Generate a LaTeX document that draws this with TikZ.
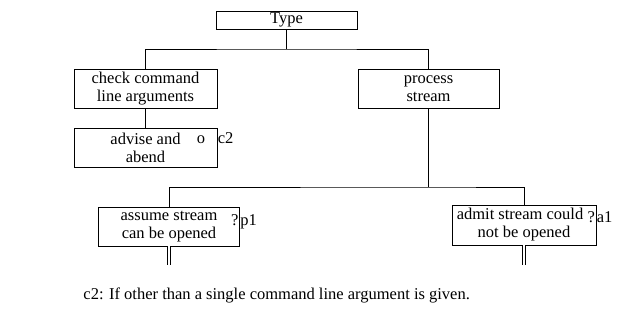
\documentclass[tikz,border=0pt]{standalone}
\usepackage{fontspec}
\setmainfont{Liberation Serif}

\begin{document}
\begin{tikzpicture}[x=1pt, y=-1pt, line width=0.9pt]
        \tikzstyle{every node}=[font=\fontsize{16.5}{18}\selectfont, inner sep=0pt]
        \tikzstyle{box}=[draw, rectangle, align=center, minimum height=39pt]
        \tikzstyle{tag}=[anchor=base west]
        \tikzstyle{stub}=[double, double distance=2.2pt, line width=0.8pt]
        \useasboundingbox (0,0) rectangle (619,312);
        % boxes
        \node [box, minimum width=141pt, minimum height=18pt] (type) at (286.5,20) {Type};
        \node [box, minimum width=143pt] (check) at (145.5,88.5) {check command\\line arguments};
        \node [box, minimum width=143pt] (advise) at (145.5,147.5) {advise and\\abend};
        \node [box, minimum width=141pt] (process) at (428.5,88.5) {process\\stream};
        \node [box, minimum width=141pt] (assume) at (169,226.5) {assume stream\\can be opened};
        \node [box, minimum width=144pt, minimum height=40pt] (admit) at (524,225) {admit stream could\hspace*{8pt}\\not be opened};
        % tags at the right edge
        \node [tag] (c2) at (advise.east |- 0,144) {c2};
        \node [anchor=base east] (adv-o) at ([xshift=-12pt]advise.east |- 0,144) {o};
        \node [tag] (p1) at (assume.east |- 0,225.5) {p1};
        \node [anchor=base east] (p1-q) at ([xshift=-1pt]assume.east |- 0,225.5) {?};
        \node [tag] (a1) at (admit.east |- 0,223) {a1};
        \node [anchor=base east] (a1-q) at ([xshift=-1pt]admit.east |- 0,223) {?};
        % joins
        \coordinate (j1) at (286.5,49);
        \coordinate (j2) at (428.5,187);
        \coordinate (p1-out) at ([yshift=-19pt]assume.south);
        \coordinate (a1-out) at ([yshift=-20pt]admit.south);
        \draw (type.south) -- (j1);
        \draw (check.north) |- (j1) -| (process.north);
        \draw (check) -- (advise);
        \draw (process.south) -- (j2);
        \draw (assume.north) |- (j2) -| (admit.north);
        \draw [stub] (assume.south) -- (p1-out);
        \draw [stub] (admit.south) -- (a1-out);
        % note under the tree
        \node [anchor=base west] (note) at (83,300) {c2: If other than a single command line argument is given.};
    \end{tikzpicture}
\end{document}
